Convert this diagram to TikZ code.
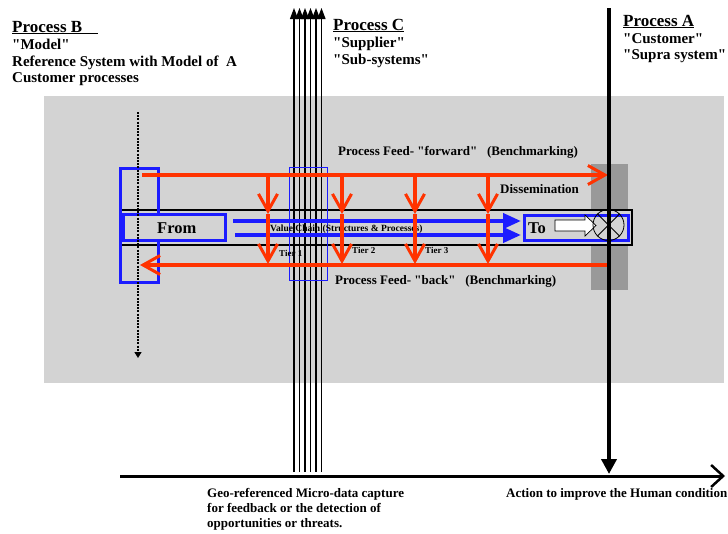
\documentclass[tikz,border=0pt]{standalone}
\usepackage{fontspec}
\setmainfont{Liberation Serif}
\usetikzlibrary{arrows.meta, positioning, calc}
\definecolor{bggray}{RGB}{211,211,211}
\definecolor{bandgray}{RGB}{153,153,153}
\definecolor{feedred}{RGB}{255,51,0}
\definecolor{chainblue}{RGB}{28,28,255}
\newcommand{\qq}[1]{\textquotedbl#1\textquotedbl}

\begin{document}
\begin{tikzpicture}[x=1pt, y=-1pt,
  head/.style={inner sep=0pt, anchor=base west, font=\fontsize{17}{19}\selectfont\bfseries},
  sub/.style={inner sep=0pt, anchor=base west, font=\fontsize{15}{17}\selectfont\bfseries},
  lbl/.style={inner sep=0pt, anchor=base west, font=\fontsize{13}{15}\selectfont\bfseries},
  tierlbl/.style={inner sep=0pt, anchor=base west, font=\fontsize{9}{10}\selectfont\bfseries},
  feed/.style={draw=feedred, line width=4pt, -{Straight Barb[length=17pt, width=19pt, line width=3pt]}},
  chain/.style={draw=chainblue, line width=4pt, -{Triangle[length=18pt, width=15pt]}},
  chainbox/.style={draw=chainblue, line width=3pt, fill=bggray, inner sep=0pt},
  strand/.style={line width=1.2pt, -{Triangle[length=11pt, width=8pt]}}
]
\useasboundingbox (0,0) rectangle (728,533);

% background and customer band
\fill[bggray] (44,96) rectangle (724,383);
\fill[bandgray] (591,164) rectangle (628,290);

% value chain tube
\draw[line width=1.5pt, fill=bggray] (120,210) rectangle (632,245);

% supplier strands (process C)
\foreach \i in {0,...,5} {
  \coordinate (sb\i) at ({294+5.5*\i},472);
  \coordinate (st\i) at ({294+5.5*\i},8);
  \draw[strand] (sb\i) -- (st\i);
}
\draw[chainblue, line width=1pt] (289,167) rectangle (327,280);

% model box and end boxes
\draw[chainblue, line width=3pt] (120,168) rectangle (158,282);
\node[chainbox, minimum width=102pt, minimum height=26pt] (from) at (174.5,227.5) {};
\node[lbl, font=\fontsize{16.5}{18}\selectfont\bfseries] (fromtxt) at (157,233) {From};
\node[chainbox, minimum width=104pt, minimum height=25pt] (tobox) at (576.5,227.5) {};
\node[lbl, font=\fontsize{16.5}{18}\selectfont\bfseries] (totxt) at (528,233) {To};

% value chain arrows
\coordinate (vcA) at (233,221); \coordinate (vcB) at (521,221);
\coordinate (vcC) at (235,235); \coordinate (vcD) at (521,235);
\draw[chain] (vcA) -- (vcB);
\draw[chain] (vcC) -- (vcD);
\node[tierlbl, font=\fontsize{9.5}{10}\selectfont\bfseries] (vctxt) at (270,231) {Value Chain (Structures \& Processes)};

% process feed forward / back
\coordinate (fwdL) at (142,175); \coordinate (fwdR) at (608,175);
\coordinate (backR) at (607,265); \coordinate (backL) at (140,265);
\draw[feed] (fwdL) -- (fwdR);
\draw[feed] (backR) -- (backL);
\foreach \x [count=\k] in {268,342,415,488} {
  \coordinate (t\k) at (\x,175);
  \coordinate (m\k) at (\x,214);
  \coordinate (b\k) at (\x,264);
  \draw[feed] (t\k) -- (m\k);
  \draw[feed] (m\k) -- (b\k);
}
\node[tierlbl] (tier1) at (279,256) {Tier 1};
\node[tierlbl] (tier2) at (352,253) {Tier 2};
\node[tierlbl] (tier3) at (425,253) {Tier 3};
\node[lbl] (fwdtxt) at (338,155) {Process Feed- \qq{forward}~~~(Benchmarking)};
\node[lbl] (disstxt) at (500,193) {Dissemination};
\node[lbl] (backtxt) at (335,284) {Process Feed- \qq{back}~~~(Benchmarking)};

% model path (dotted)
\coordinate (mdT) at (138,112); \coordinate (mdB) at (138,358);
\draw[line width=1.4pt, dash pattern=on 2pt off 1.2pt, -{Triangle[length=6pt, width=7pt]}] (mdT) -- (mdB);

% customer output
\draw[fill=white, line width=0.7pt] (555,220) -- (585,220) -- (585,215) -- (596,225.5)
  -- (585,236) -- (585,231) -- (555,231) -- cycle;
\node[draw, circle, line width=0.8pt, minimum size=31pt, inner sep=0pt] (merge) at (608.5,225) {};
\draw[line width=0.8pt] (merge.north west) -- (merge.south east);
\draw[line width=0.8pt] (merge.north east) -- (merge.south west);

% process A line and action axis
\coordinate (paT) at (609,8); \coordinate (paB) at (609,474);
\draw[line width=4pt, -{Triangle[length=15pt, width=15pt]}] (paT) -- (paB);
\coordinate (axL) at (120,476); \coordinate (axR) at (725,476);
\draw[line width=3pt, -{Straight Barb[length=12pt, width=22pt, line width=2.5pt]}] (axL) -- (axR);

% headings
\node[head] (procB) at (12,32) {\underline{Process B\hspace{16pt}}};
\node[sub] (procB1) at (12,49) {\qq{Model}};
\node[sub] (procB2) at (12,66) {Reference System with Model of~~A};
\node[sub] (procB3) at (12,82) {Customer processes};
\node[head] (procC) at (333,30) {\underline{Process C}};
\node[sub] (procC1) at (333,47) {\qq{Supplier}};
\node[sub] (procC2) at (333,64) {\qq{Sub-systems}};
\node[head] (procA) at (623,26) {\underline{Process A}};
\node[sub] (procA1) at (623,43) {\qq{Customer}};
\node[sub] (procA2) at (623,59) {\qq{Supra system}};

% bottom captions
\node[lbl] (geo1) at (207,497) {Geo-referenced Micro-data capture};
\node[lbl] (geo2) at (207,512) {for feedback or the detection of};
\node[lbl] (geo3) at (207,527) {opportunities or threats.};
\node[lbl] (acttxt) at (506,497) {Action to improve the Human condition};
\end{tikzpicture}
\end{document}
